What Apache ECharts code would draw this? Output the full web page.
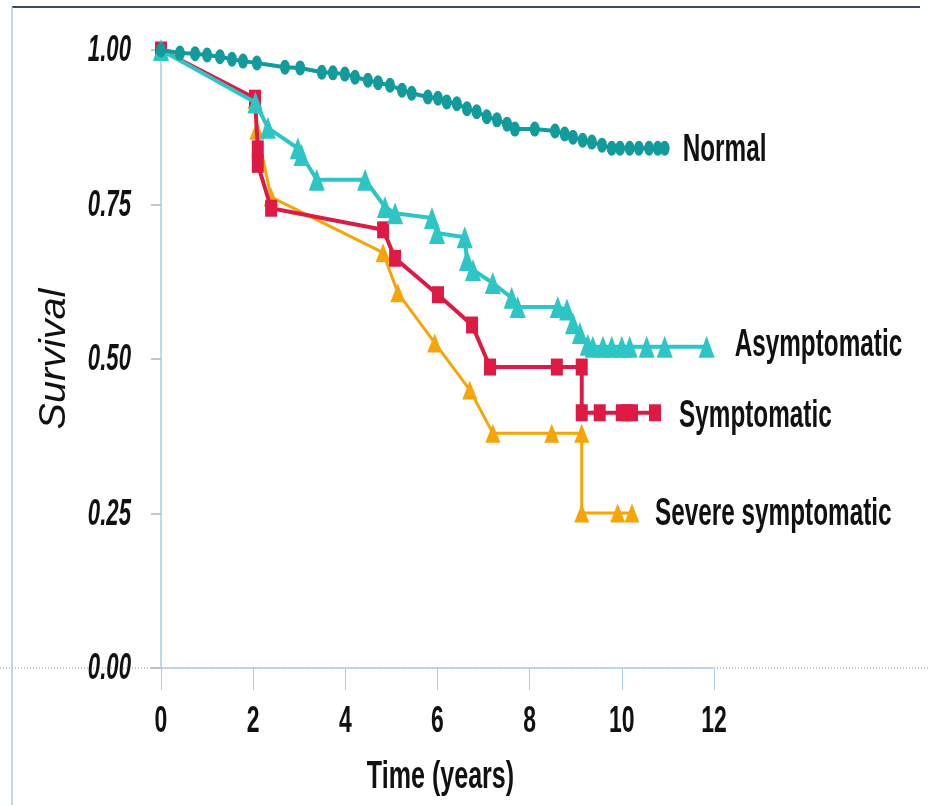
<!DOCTYPE html>
<html>
<head>
<meta charset="utf-8">
<script src="https://cdn.jsdelivr.net/npm/echarts@6/dist/echarts.min.js"></script>
<style>
html,body{margin:0;padding:0;background:#fff;}
#chart{width:928px;height:805px;}
</style>
</head>
<body>
<div id="chart"></div>
<script>
// ---- data ----
const xTicks = [0, 2, 4, 6, 8, 10, 12];
const yTicks = [0, 0.25, 0.5, 0.75, 1.0];
const seriesNames = ['Normal', 'Asymptomatic', 'Symptomatic', 'Severe symptomatic'];
const xTitle = 'Time (years)';
const yTitle = 'Survival';

const normalT = [0, 0.41, 0.74, 1.0, 1.28, 1.54, 1.78, 2.08, 2.69, 3.02, 3.49, 3.73, 3.99, 4.21, 4.49, 4.71, 4.97, 5.23, 5.44, 5.79, 6.01, 6.20, 6.42, 6.64, 6.85, 7.07, 7.29, 7.51, 7.68, 8.11, 8.55, 8.76, 8.94, 9.15, 9.35, 9.57, 9.78, 9.96, 10.17, 10.37, 10.59, 10.78, 10.93];
const normalS = [1.0, 0.995, 0.994, 0.992, 0.989, 0.985, 0.982, 0.979, 0.972, 0.971, 0.964, 0.963, 0.961, 0.956, 0.951, 0.947, 0.943, 0.935, 0.930, 0.924, 0.922, 0.916, 0.913, 0.905, 0.900, 0.892, 0.887, 0.880, 0.872, 0.872, 0.869, 0.864, 0.859, 0.854, 0.851, 0.846, 0.841, 0.841, 0.841, 0.841, 0.841, 0.841, 0.841];

const asymT = [0, 2.05, 2.32, 2.97, 3.05, 3.38, 4.43, 4.86, 5.08, 5.88, 5.99, 6.59, 6.64, 6.77, 7.20, 7.61, 7.74, 8.61, 8.81, 8.94, 9.09, 9.26, 9.37, 9.59, 9.78, 10.0, 10.17, 10.54, 10.93, 11.84];
const asymS = [1.0, 0.915, 0.874, 0.841, 0.83, 0.79, 0.79, 0.746, 0.736, 0.728, 0.704, 0.697, 0.66, 0.644, 0.623, 0.599, 0.584, 0.584, 0.58, 0.558, 0.542, 0.523, 0.52, 0.52, 0.52, 0.52, 0.52, 0.52, 0.52, 0.52];

const symT = [0, 2.04, 2.10, 2.10, 2.39, 4.82, 5.08, 6.01, 6.75, 7.14, 8.59, 9.13, 9.13, 9.52, 10.0, 10.11, 10.22, 10.72];
const symS = [1.0, 0.922, 0.84, 0.815, 0.744, 0.709, 0.663, 0.604, 0.555, 0.487, 0.487, 0.487, 0.413, 0.413, 0.413, 0.413, 0.413, 0.413];

const sevT = [0, 2.04, 2.08, 2.39, 4.82, 5.14, 5.94, 6.70, 7.20, 8.48, 9.13, 9.13, 9.91, 10.22];
const sevS = [1.0, 0.92, 0.87, 0.762, 0.672, 0.607, 0.526, 0.45, 0.38, 0.38, 0.38, 0.251, 0.251, 0.251];

// ---- build ----
const zip = (t, s) => t.map((v, i) => [v, s[i]]);
const FONT = '"Liberation Sans", Arial, sans-serif';
const axisBlue = '#a9cfe8';

function mkSeries(name, t, s, color, symbol, size, lw, z) {
  return {
    name: name, type: 'line', data: zip(t, s), z: z,
    symbol: symbol, symbolSize: size, showAllSymbol: true,
    lineStyle: { color: color, width: lw },
    itemStyle: { color: color },
    emphasis: { disabled: true }
  };
}

const chart = echarts.init(document.getElementById('chart'));
chart.setOption({
  animation: false,
  backgroundColor: '#fff',
  grid: { left: 161, right: 214, top: 50, bottom: 137, containLabel: false },
  xAxis: {
    type: 'value', min: 0, max: 12, interval: 2,
    axisLine: { show: true, lineStyle: { color: axisBlue, width: 1.5 } },
    axisTick: { show: true, length: 22, lineStyle: { color: axisBlue, width: 1 } },
    axisLabel: { show: false },
    splitLine: { show: false }
  },
  yAxis: {
    type: 'value', min: 0, max: 1, interval: 0.25,
    axisLine: { show: true, lineStyle: { color: axisBlue, width: 1.5 } },
    axisTick: { show: true, length: 10, lineStyle: { color: '#a8b8c8', width: 1.5 } },
    axisLabel: { show: false },
    splitLine: { show: false }
  },
  series: [
    mkSeries(seriesNames[3], sevT, sevS, '#f5a50a', 'triangle', [15, 19], 3, 2),
    mkSeries(seriesNames[2], symT, symS, '#dc1a44', 'rect', [12, 17], 4, 3),
    mkSeries(seriesNames[1], asymT, asymS, '#2ec5c5', 'triangle', [16, 22], 4, 4),
    mkSeries(seriesNames[0], normalT, normalS, '#139a9a', 'circle', [10, 15], 4, 5)
  ]
});

// ---- text drawn through the chart's own coordinate conversion ----
const toPx = (x, y) => chart.convertToPixel({ gridIndex: 0 }, [x, y]);
const g = [
  { type: 'line', shape: { x1: 0, y1: 668, x2: 928, y2: 668 }, z: -1,
    style: { stroke: '#8a8a8a', lineWidth: 1, lineDash: [1, 2] } },
  { type: 'line', shape: { x1: 12, y1: 7, x2: 920, y2: 7 },
    style: { stroke: '#3a4a6a', lineWidth: 2 } },
  { type: 'line', shape: { x1: 12, y1: 7, x2: 12, y2: 805 },
    style: { stroke: '#b8c4d8', lineWidth: 1.5 } }
];
function txt(x, y, text, font, align, sx, extra) {
  const e = {
    type: 'text', x: x, y: y, scaleX: sx, z: 100,
    style: { text: text, font: font, fill: '#111', align: align, verticalAlign: 'middle' }
  };
  return Object.assign(e, extra || {});
}
yTicks.forEach(v => {
  const p = toPx(0, v);
  g.push(txt(131, p[1] + 1, v.toFixed(2), 'italic bold 37px ' + FONT, 'right', 0.6));
});
xTicks.forEach(v => {
  const p = toPx(v, 0);
  g.push(txt(p[0], p[1] + 54, String(v), 'bold 37px ' + FONT, 'center', 0.62));
});
{
  const p = toPx(6, 0);
  g.push(txt(p[0] + 3, p[1] + 110, xTitle, 'bold 38px ' + FONT, 'center', 0.66));
  const q = toPx(0, 0.5);
  g.push(txt(55, q[1], yTitle, 'italic 36px ' + FONT, 'center', 1.1, { rotation: Math.PI / 2 }));
}
const ends = [
  [normalT, normalS, 18, 2],
  [asymT, asymS, 28, -1],
  [symT, symS, 24, 4],
  [sevT, sevS, 23, 2]
];
ends.forEach((e, i) => {
  const n = e[0].length - 1;
  const p = toPx(e[0][n], e[1][n]);
  g.push(txt(p[0] + e[2], p[1] + e[3], seriesNames[i], 'bold 38px ' + FONT, 'left', 0.64));
});
chart.setOption({ graphic: g });
</script>
</body>
</html>
